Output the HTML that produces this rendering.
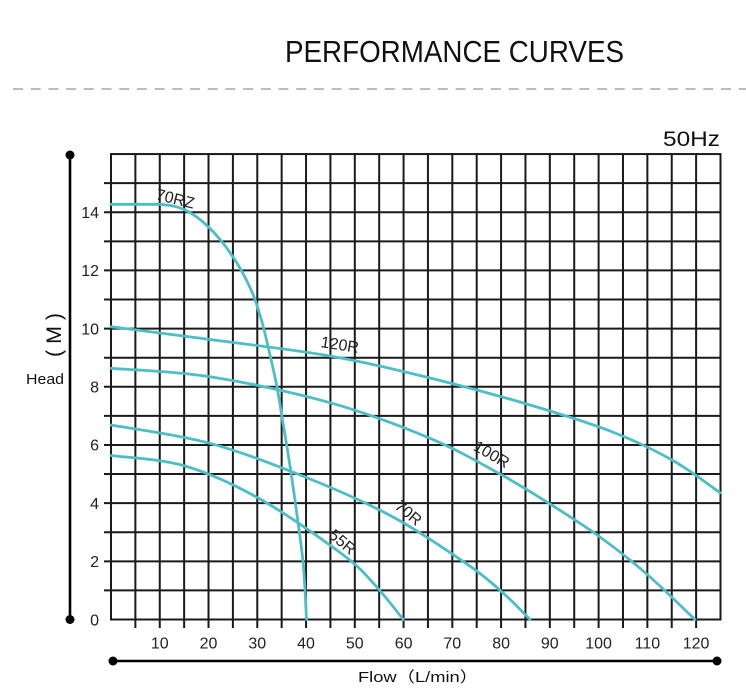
<!DOCTYPE html>
<html><head><meta charset="utf-8"><style>
html,body{margin:0;padding:0;background:#fff;}
svg{display:block;}
text{font-family:"Liberation Sans","Noto Sans CJK SC",sans-serif;}
</style></head><body>
<svg width="746" height="693" viewBox="0 0 746 693" xmlns="http://www.w3.org/2000/svg">
<rect width="746" height="693" fill="#fff"/>
<text x="285" y="62" font-size="31" fill="#111" textLength="339" lengthAdjust="spacingAndGlyphs">PERFORMANCE CURVES</text>
<line x1="13" y1="89" x2="746" y2="89" stroke="#bdbdbd" stroke-width="2" stroke-dasharray="10 7.7"/>
<text x="663" y="146" font-size="21" fill="#111" textLength="57" lengthAdjust="spacingAndGlyphs">50Hz</text>
<g stroke="#1a1a1a" stroke-width="2" fill="none">
<line x1="104" y1="590.41" x2="720.5" y2="590.41"/>
<line x1="104" y1="561.32" x2="720.5" y2="561.32"/>
<line x1="104" y1="532.23" x2="720.5" y2="532.23"/>
<line x1="104" y1="503.14" x2="720.5" y2="503.14"/>
<line x1="104" y1="474.05" x2="720.5" y2="474.05"/>
<line x1="104" y1="444.96" x2="720.5" y2="444.96"/>
<line x1="104" y1="415.87" x2="720.5" y2="415.87"/>
<line x1="104" y1="386.78" x2="720.5" y2="386.78"/>
<line x1="104" y1="357.69" x2="720.5" y2="357.69"/>
<line x1="104" y1="328.6" x2="720.5" y2="328.6"/>
<line x1="104" y1="299.51" x2="720.5" y2="299.51"/>
<line x1="104" y1="270.42" x2="720.5" y2="270.42"/>
<line x1="104" y1="241.33" x2="720.5" y2="241.33"/>
<line x1="104" y1="212.24" x2="720.5" y2="212.24"/>
<line x1="104" y1="183.15" x2="720.5" y2="183.15"/>
<line x1="135.38" y1="154" x2="135.38" y2="628"/>
<line x1="159.76" y1="154" x2="159.76" y2="628"/>
<line x1="184.14" y1="154" x2="184.14" y2="628"/>
<line x1="208.52" y1="154" x2="208.52" y2="628"/>
<line x1="232.9" y1="154" x2="232.9" y2="628"/>
<line x1="257.28" y1="154" x2="257.28" y2="628"/>
<line x1="281.66" y1="154" x2="281.66" y2="628"/>
<line x1="306.04" y1="154" x2="306.04" y2="628"/>
<line x1="330.42" y1="154" x2="330.42" y2="628"/>
<line x1="354.8" y1="154" x2="354.8" y2="628"/>
<line x1="379.18" y1="154" x2="379.18" y2="628"/>
<line x1="403.56" y1="154" x2="403.56" y2="628"/>
<line x1="427.94" y1="154" x2="427.94" y2="628"/>
<line x1="452.32" y1="154" x2="452.32" y2="628"/>
<line x1="476.7" y1="154" x2="476.7" y2="628"/>
<line x1="501.08" y1="154" x2="501.08" y2="628"/>
<line x1="525.46" y1="154" x2="525.46" y2="628"/>
<line x1="549.84" y1="154" x2="549.84" y2="628"/>
<line x1="574.22" y1="154" x2="574.22" y2="628"/>
<line x1="598.6" y1="154" x2="598.6" y2="628"/>
<line x1="622.98" y1="154" x2="622.98" y2="628"/>
<line x1="647.36" y1="154" x2="647.36" y2="628"/>
<line x1="671.74" y1="154" x2="671.74" y2="628"/>
<line x1="696.12" y1="154" x2="696.12" y2="628"/>
<rect x="111" y="154.06" width="609.5" height="465.44"/>
</g>
<g font-size="16" fill="#222" text-anchor="end">
<text x="99" y="625.3">0</text>
<text x="99" y="567.1">2</text>
<text x="99" y="508.9">4</text>
<text x="99" y="450.7">6</text>
<text x="99" y="392.5">8</text>
<text x="99" y="334.3">10</text>
<text x="99" y="276.1">12</text>
<text x="99" y="218">14</text>
</g>
<g font-size="16" fill="#222" text-anchor="middle">
<text x="159.8" y="648.5">10</text>
<text x="208.5" y="648.5">20</text>
<text x="257.3" y="648.5">30</text>
<text x="306" y="648.5">40</text>
<text x="354.8" y="648.5">50</text>
<text x="403.6" y="648.5">60</text>
<text x="452.3" y="648.5">70</text>
<text x="501.1" y="648.5">80</text>
<text x="549.8" y="648.5">90</text>
<text x="598.6" y="648.5">100</text>
<text x="647.4" y="648.5">110</text>
<text x="696.1" y="648.5">120</text>
</g>
<g stroke="#000" stroke-width="2.6">
<line x1="70" y1="155" x2="70" y2="619"/>
<line x1="113" y1="661" x2="717" y2="661"/>
</g>
<g fill="#000">
<circle cx="70" cy="155" r="4.5"/>
<circle cx="70" cy="619.5" r="4.5"/>
<circle cx="113" cy="661" r="4.5"/>
<circle cx="717" cy="661" r="4.5"/>
</g>
<text x="0" y="0" font-size="21" fill="#111" text-anchor="middle" textLength="44" lengthAdjust="spacingAndGlyphs" transform="translate(61,335) rotate(-90)">( M )</text>
<text x="26" y="384" font-size="15" fill="#111" textLength="38" lengthAdjust="spacingAndGlyphs">Head</text>
<text x="358" y="682" font-size="15" fill="#111" textLength="120" lengthAdjust="spacingAndGlyphs">Flow（L/min）</text>
<g stroke="#4dbec7" stroke-width="2.8" fill="none" stroke-linejoin="round" stroke-linecap="round">
<path d="M111,204.3 L160,204.3 C172.67,205.42 178.33,206.63 187,211 C195.67,215.37 204,222.33 212,230.5 C220,238.67 228.33,249.75 235,260 C241.67,270.25 247.5,281.67 252,292 C256.5,302.33 259,311.5 262,322 C265,332.5 267.5,344.17 270,355 C272.5,365.83 274.92,376.17 277,387 C279.08,397.83 280.33,406.83 282.5,420 C284.67,433.17 287.42,449 290,466 C292.58,483 295.75,505.17 298,522 C300.25,538.83 302.08,550.75 303.5,567 C304.92,583.25 306,610.75 306.5,619.5"/>
<path d="M111,326.7 C127.5,328.83 173.5,334.62 210,339.5 C246.5,344.38 293.33,349.58 330,356 C366.67,362.42 397.5,370.08 430,378 C462.5,385.92 495,394.67 525,403.5 C555,412.33 585.5,421.58 610,431 C634.5,440.42 653.67,449.72 672,460 C690.33,470.28 712,487.25 720,492.7"/>
<path d="M111,368.3 C127.5,369.7 173.5,370.97 210,376.7 C246.5,382.43 293.33,392.43 330,402.7 C366.67,412.97 401.67,426.42 430,438.3 C458.33,450.18 480,463.05 500,474 C520,484.95 533.33,493.5 550,504 C566.67,514.5 583.88,525.33 600,537 C616.12,548.67 630.87,560.25 646.7,574 C662.53,587.75 686.95,611.92 695,619.5"/>
<path d="M111,425 C127.5,428.05 176.83,434.3 210,443.3 C243.17,452.3 279.5,466.72 310,479 C340.5,491.28 367.17,503.05 393,517 C418.83,530.95 446.88,550.25 465,562.7 C483.12,575.15 490.87,582.23 501.7,591.7 C512.53,601.17 525.28,614.87 530,619.5"/>
<path d="M111,455.5 C123.33,457.25 160.17,458.75 185,466 C209.83,473.25 233.62,484.17 260,499 C286.38,513.83 323.85,540.33 343.3,555 C362.75,569.67 366.7,576.25 376.7,587 C386.7,597.75 398.87,614.08 403.3,619.5"/>
</g>
<g font-size="16" fill="#222" text-anchor="middle">
<text transform="translate(174,204) rotate(14)">70RZ</text>
<text transform="translate(339,350) rotate(9)">120R</text>
<text transform="translate(489,459) rotate(30)">100R</text>
<text transform="translate(405,517) rotate(40)">70R</text>
<text transform="translate(339,546) rotate(40)">55R</text>
</g>
</svg>
</body></html>
